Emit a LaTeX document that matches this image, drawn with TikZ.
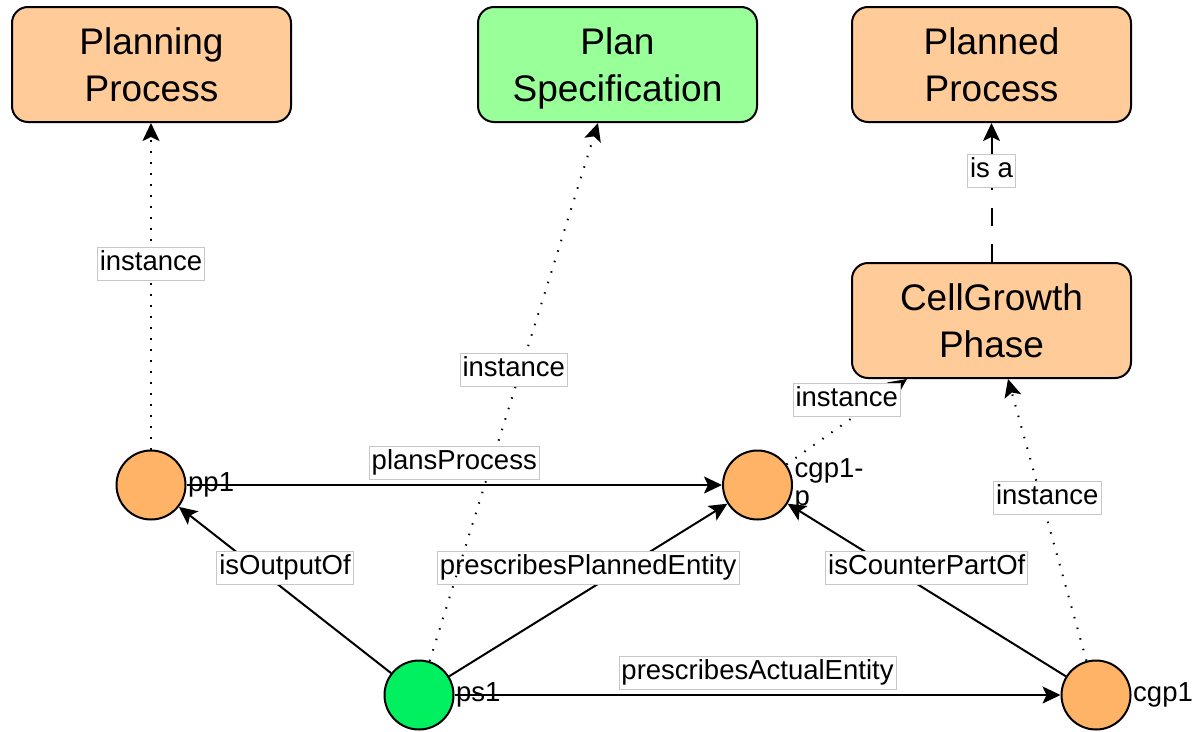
\documentclass[tikz,border=0pt]{standalone}
\usepackage{fontspec}
\setmainfont{Liberation Sans}
\usetikzlibrary{arrows.meta}
\definecolor{classfill}{HTML}{FFCC99}
\definecolor{planfill}{HTML}{99FF99}
\definecolor{indfill}{HTML}{FFB366}
\definecolor{specfill}{HTML}{00F060}
\begin{document}
\begin{tikzpicture}[x=1pt,y=-1pt,
  cls/.style={draw=black, line width=2pt, rounded corners=16pt,
    minimum width=279pt, minimum height=115pt, inner sep=0pt,
    text depth=0pt, align=center, font=\fontsize{37}{47}\selectfont},
  ind/.style={circle, draw=black, line width=2pt, minimum size=69pt,
    inner sep=0pt, fill=indfill},
  tag/.style={inner sep=1.5pt, font=\fontsize{27.5}{28}\selectfont, align=left},
  elabel/.style={midway, yshift=22pt, fill=white, draw=black!22, solid,
    line width=0.7pt, inner xsep=2.5pt, inner ysep=2pt,
    text height=21pt, text depth=8pt, font=\fontsize{27.5}{33}\selectfont},
  rel/.style={line width=2pt, -{Stealth[length=18pt, width=17pt, inset=4pt]}},
  instof/.style={rel, dash pattern=on 1.5pt off 9.5pt},
  isa/.style={rel, dash pattern=on 18pt off 18pt}
]
\useasboundingbox (0,0) rectangle (1196,731);

% classes
\node[cls, fill=classfill] (planning) at (151.5,64.5) {Planning\\Process};
\node[cls, fill=planfill]  (spec)     at (617.5,64.5) {Plan\\Specification};
\node[cls, fill=classfill] (planned)  at (991.5,64.5) {Planned\\Process};
\node[cls, fill=classfill] (cell)     at (991.5,320.5) {CellGrowth\\Phase};

% individuals
\node[ind] (pp1) at (151,485) {};
\node[tag, anchor=west] (pp1tag) at (pp1.east) {pp1};
\node[ind] (cgp1p) at (757.5,485) {};
\node[tag, anchor=west] (cgp1ptag) at (cgp1p.east) {cgp1-\\p};
\node[ind, fill=specfill] (ps1) at (419,695) {};
\node[tag, anchor=west] (ps1tag) at (ps1.east) {ps1};
\node[ind] (cgp1) at (1096,695) {};
\node[tag, anchor=west] (cgp1tag) at (cgp1.east) {cgp1};

% relations
\draw[rel] (ps1) -- (pp1) node[elabel] {isOutputOf};
\draw[rel] (ps1) -- (cgp1p) node[elabel] {prescribesPlannedEntity};
\draw[instof] (ps1) -- ([xshift=-19.5pt]spec.south) node[elabel] {instance};
\draw[rel] (pp1) -- (cgp1p) node[elabel] {plansProcess};
\draw[instof] (pp1) -- (pp1 |- planning.south) node[elabel] {instance};
\draw[rel] (ps1) -- (cgp1) node[elabel] {prescribesActualEntity};
\draw[rel] (cgp1) -- (cgp1p) node[elabel] {isCounterPartOf};
\draw[instof] (cgp1p) -- ([xshift=-84.5pt]cell.south) node[elabel] {instance};
\draw[instof] (cgp1) -- ([xshift=16.5pt]cell.south) node[elabel] {instance};
\draw[isa] (cell) -- (planned) node[elabel] {is a};
\end{tikzpicture}
\end{document}
